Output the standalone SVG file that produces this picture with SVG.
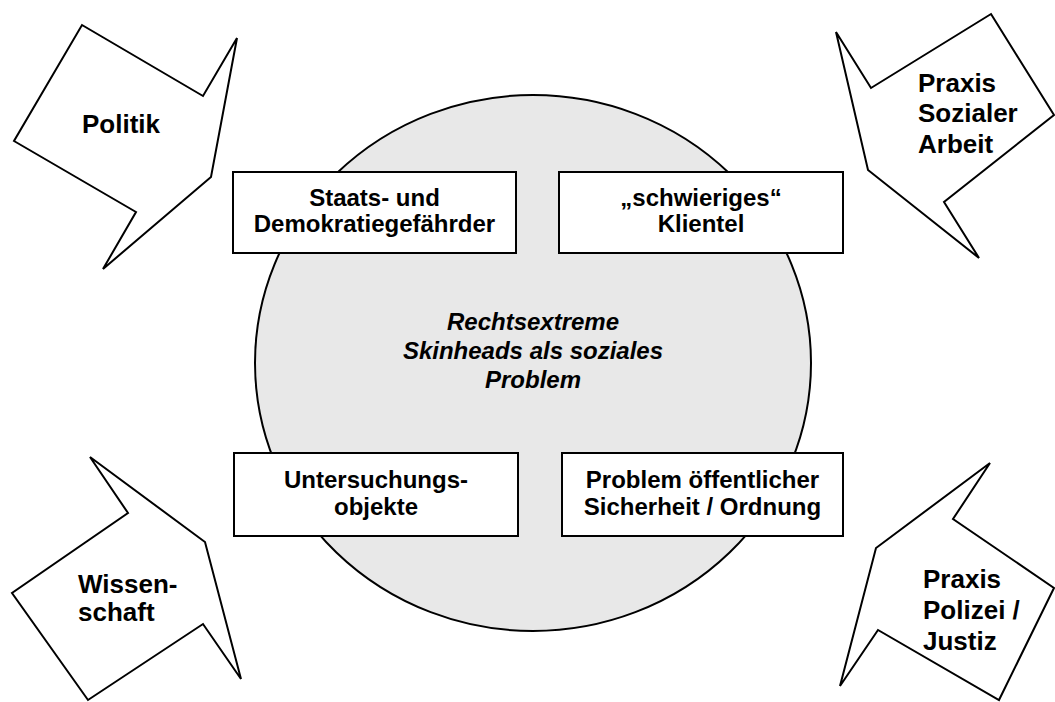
<svg xmlns="http://www.w3.org/2000/svg" width="1055" height="702" viewBox="0 0 1055 702">
<style>
.arrow{fill:#fff;stroke:#000;stroke-width:2;stroke-linejoin:miter}
.box{fill:#fff;stroke:#000;stroke-width:2}
.lbl{font-family:"Liberation Sans",Arial,sans-serif;font-weight:bold;font-size:26px;fill:#000}
.bl{font-family:"Liberation Sans",Arial,sans-serif;font-weight:bold;font-size:24px;fill:#000;text-anchor:middle}
.ctr{font-family:"Liberation Sans",Arial,sans-serif;font-weight:bold;font-style:italic;font-size:24px;fill:#000;text-anchor:middle}
</style>
<rect width="1055" height="702" fill="#fff"/>
<g id="center">
<ellipse cx="533" cy="363" rx="278" ry="268" fill="#e8e8e8" stroke="#000" stroke-width="2"/>
<text class="ctr"><tspan x="533" y="330">Rechtsextreme</tspan><tspan x="533" y="359">Skinheads als soziales</tspan><tspan x="533" y="388">Problem</tspan></text>
</g>
<g id="politik">
<polygon class="arrow" points="82,25 203,96 237,38 211,177 103,269 136,212 14,141"/>
<text class="lbl" x="121" y="133" text-anchor="middle">Politik</text>
</g>
<g id="praxis-sozialer-arbeit">
<polygon class="arrow" points="991,14 1054,115 944,202 979,258 868,170 836,32 871,88"/>
<text class="lbl"><tspan x="918" y="92">Praxis</tspan><tspan x="918" y="122">Sozialer</tspan><tspan x="918" y="153">Arbeit</tspan></text>
</g>
<g id="wissenschaft">
<polygon class="arrow" points="90,457 205,542 241,679 203,624 88,700 12,593 128,513"/>
<text class="lbl"><tspan x="78" y="593">Wissen-</tspan><tspan x="78" y="621">schaft</tspan></text>
</g>
<g id="praxis-polizei-justiz">
<polygon class="arrow" points="990,463 953,519 1054,588 999,700 878,630 840,686 876,548"/>
<text class="lbl"><tspan x="923" y="588">Praxis</tspan><tspan x="923" y="619">Polizei /</tspan><tspan x="923" y="650">Justiz</tspan></text>
</g>
<g id="staatsgefaehrder">
<rect class="box" x="233" y="172" width="283" height="81"/>
<text class="bl"><tspan x="374.5" y="206">Staats- und</tspan><tspan x="374.5" y="232">Demokratiegefährder</tspan></text>
</g>
<g id="klientel">
<rect class="box" x="559" y="172" width="284" height="81"/>
<text class="bl"><tspan x="701" y="206">„schwieriges“</tspan><tspan x="701" y="232">Klientel</tspan></text>
</g>
<g id="untersuchungsobjekte">
<rect class="box" x="234" y="453" width="284" height="83"/>
<text class="bl"><tspan x="376" y="488">Untersuchungs-</tspan><tspan x="376" y="515">objekte</tspan></text>
</g>
<g id="sicherheit">
<rect class="box" x="562" y="453" width="281" height="83"/>
<text class="bl"><tspan x="702.5" y="488">Problem öffentlicher</tspan><tspan x="702.5" y="515">Sicherheit / Ordnung</tspan></text>
</g>
<g id="connectors"></g>
</svg>
